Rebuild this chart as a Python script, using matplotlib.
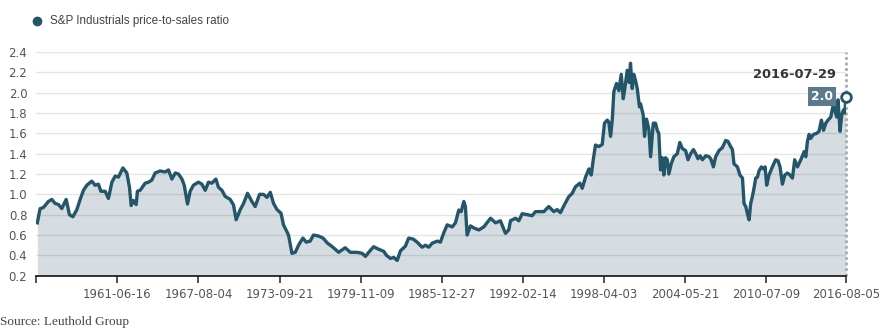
import numpy as np
import pandas as pd
import matplotlib
matplotlib.use("Agg")
import matplotlib.pyplot as plt
from matplotlib.lines import Line2D

# === Data (decimal year, ratio) ===
years = [
    1955.40, 1955.61, 1955.86, 1956.24, 1956.50, 1956.75, 1957.00, 1957.25, 1957.58, 1957.83,
    1958.09, 1958.39, 1958.64, 1958.89, 1959.15, 1959.52, 1959.77, 1960.02, 1960.21, 1960.53,
    1960.78, 1961.04, 1961.29, 1961.54, 1961.87, 1962.17, 1962.37, 1962.50, 1962.67, 1962.88,
    1962.97, 1963.18, 1963.56, 1963.81, 1964.06, 1964.31, 1964.69, 1965.07, 1965.32, 1965.58,
    1965.83, 1966.08, 1966.34, 1966.51, 1966.76, 1966.96, 1967.21, 1967.59, 1967.85, 1968.10,
    1968.35, 1968.60, 1968.91, 1969.10, 1969.36, 1969.61, 1969.99, 1970.24, 1970.44, 1970.75,
    1971.00, 1971.30, 1971.63, 1971.88, 1972.21, 1972.51, 1972.77, 1973.02, 1973.27, 1973.53,
    1973.83, 1974.02, 1974.40, 1974.66, 1974.91, 1975.16, 1975.49, 1975.74, 1976.04, 1976.29,
    1976.67, 1977.01, 1977.35, 1977.76, 1978.19, 1978.69, 1979.07, 1979.58, 1979.97, 1980.22,
    1980.47, 1980.84, 1981.22, 1981.60, 1981.81, 1982.11, 1982.36, 1982.62, 1982.87, 1983.24,
    1983.49, 1983.83, 1984.13, 1984.51, 1984.76, 1985.01, 1985.27, 1985.64, 1985.89, 1986.14,
    1986.40, 1986.78, 1987.03, 1987.28, 1987.46, 1987.66, 1987.78, 1987.91, 1988.16, 1988.41,
    1988.79, 1989.17, 1989.68, 1990.06, 1990.43, 1990.81, 1991.06, 1991.19, 1991.57, 1991.82,
    1992.08, 1992.45, 1992.83, 1993.08, 1993.46, 1993.71, 1994.09, 1994.47, 1994.72, 1994.97,
    1995.28, 1995.60, 1995.86, 1996.11, 1996.44, 1996.62, 1996.87, 1997.12, 1997.30, 1997.45,
    1997.62, 1997.87, 1998.13, 1998.30, 1998.51, 1998.63, 1998.76, 1998.89, 1999.01, 1999.21,
    1999.39, 1999.57, 1999.72, 1999.84, 2000.02, 2000.17, 2000.27, 2000.40, 2000.52, 2000.65,
    2000.78, 2000.95, 2001.03, 2001.23, 2001.33, 2001.48, 2001.66, 2001.79, 2001.99, 2002.16,
    2002.29, 2002.41, 2002.54, 2002.67, 2002.79, 2002.92, 2003.05, 2003.17, 2003.35, 2003.55,
    2003.81, 2004.00, 2004.19, 2004.44, 2004.62, 2004.82, 2005.03, 2005.20, 2005.37, 2005.53,
    2005.71, 2005.96, 2006.21, 2006.34, 2006.54, 2006.71, 2006.96, 2007.22, 2007.47, 2007.65,
    2007.80, 2007.98, 2008.10, 2008.36, 2008.55, 2008.74, 2008.86, 2008.99, 2009.11, 2009.24,
    2009.36, 2009.49, 2009.61, 2009.74, 2009.87, 2009.99, 2010.17, 2010.33, 2010.45, 2010.57,
    2010.75, 2011.00, 2011.25, 2011.43, 2011.58, 2011.76, 2011.94, 2012.14, 2012.34, 2012.52,
    2012.69, 2012.90, 2013.15, 2013.40, 2013.53, 2013.65, 2013.78, 2013.90, 2014.11, 2014.36,
    2014.53, 2014.71, 2014.87, 2015.04, 2015.21, 2015.42, 2015.62, 2015.72, 2015.87, 2015.97,
    2016.12, 2016.25, 2016.38, 2016.48, 2016.57,
]
ratio = [
    0.72, 0.86, 0.87, 0.93, 0.95, 0.91, 0.90, 0.86, 0.95, 0.80,
    0.78, 0.85, 0.95, 1.04, 1.09, 1.13, 1.09, 1.10, 1.03, 1.03,
    0.96, 1.12, 1.18, 1.17, 1.26, 1.21, 1.07, 0.89, 0.94, 0.90,
    1.03, 1.04, 1.11, 1.12, 1.14, 1.21, 1.23, 1.22, 1.24, 1.15,
    1.21, 1.20, 1.15, 1.09, 0.905, 1.03, 1.09, 1.12, 1.10, 1.04,
    1.12, 1.11, 1.15, 1.07, 1.04, 0.98, 0.95, 0.895, 0.75, 0.85,
    0.91, 1.01, 0.93, 0.88, 1.00, 1.00, 0.97, 1.02, 0.91, 0.85,
    0.815, 0.70, 0.60, 0.42, 0.43, 0.50, 0.57, 0.53, 0.54, 0.60,
    0.59, 0.57, 0.52, 0.48, 0.43, 0.475, 0.43, 0.43, 0.42, 0.39,
    0.43, 0.485, 0.46, 0.44, 0.40, 0.37, 0.38, 0.35, 0.445, 0.49,
    0.57, 0.56, 0.53, 0.48, 0.50, 0.48, 0.52, 0.54, 0.53, 0.62,
    0.70, 0.68, 0.72, 0.846, 0.83, 0.93, 0.88, 0.60, 0.69, 0.67,
    0.65, 0.68, 0.765, 0.72, 0.74, 0.617, 0.65, 0.74, 0.765, 0.74,
    0.81, 0.80, 0.79, 0.83, 0.83, 0.83, 0.88, 0.83, 0.85, 0.82,
    0.90, 0.977, 1.01, 1.075, 1.11, 1.06, 1.17, 1.25, 1.19, 1.34,
    1.485, 1.47, 1.49, 1.70, 1.73, 1.71, 1.57, 1.73, 2.01, 2.09,
    2.02, 2.18, 1.94, 2.04, 2.22, 2.10, 2.29, 2.04, 2.18, 2.12,
    2.04, 1.86, 1.89, 1.78, 1.57, 1.74, 1.64, 1.37, 1.70, 1.70,
    1.63, 1.60, 1.24, 1.36, 1.19, 1.36, 1.34, 1.20, 1.30, 1.37,
    1.40, 1.51, 1.45, 1.43, 1.34, 1.40, 1.44, 1.40, 1.35, 1.38,
    1.34, 1.38, 1.37, 1.35, 1.27, 1.37, 1.43, 1.46, 1.53, 1.52,
    1.48, 1.44, 1.30, 1.27, 1.19, 1.16, 0.91, 0.88, 0.81, 0.75,
    0.91, 0.98, 1.06, 1.16, 1.17, 1.23, 1.27, 1.25, 1.27, 1.09,
    1.19, 1.27, 1.34, 1.33, 1.27, 1.10, 1.19, 1.21, 1.19, 1.16,
    1.34, 1.27, 1.34, 1.42, 1.37, 1.52, 1.59, 1.55, 1.59, 1.60,
    1.62, 1.73, 1.63, 1.70, 1.73, 1.76, 1.89, 1.83, 1.76, 1.93,
    1.62, 1.78, 1.83, 1.80, 1.96,
]
tick_dates = ["1955-04-29", "1961-06-16", "1967-08-04", "1973-09-21", "1979-11-09",
              "1985-12-27", "1992-02-14", "1998-04-03", "2004-05-21", "2010-07-09",
              "2016-08-05"]
last_date = "2016-07-29"
series_name = "S&P Industrials price-to-sales ratio"
source = "Source: Leuthold Group"

LINE = "#24566a"
FILL = "#d5dde2"
GREY_TXT = "#555555"


def to_date(y):
    yr = int(y)
    return pd.Timestamp(yr, 1, 1) + pd.Timedelta(days=(y - yr) * 365.25)


dates = np.array([to_date(y) for y in years], dtype="datetime64[ns]")
dates[-1] = np.datetime64(last_date)
ticks = np.array(tick_dates, dtype="datetime64[ns]")

fig = plt.figure(figsize=(8.85, 3.32), dpi=100)
ax = fig.add_axes([36.3 / 885, 1 - 275.7 / 332, 810 / 885, (275.7 - 52) / 332])

ax.fill_between(dates, ratio, 0.2, color=FILL, lw=0, zorder=1)
ax.plot(dates, ratio, color=LINE, lw=2.4, solid_joinstyle="round", zorder=3)

yvals = np.round(np.arange(0.2, 2.41, 0.2), 1)
ax.set_ylim(0.2, 2.4)
ax.set_xlim(ticks[0], ticks[-1])
ax.set_yticks(yvals)
ax.set_yticklabels([f"{v:.1f}" for v in yvals])

# horizontal grid, drawn above the fill
for v in yvals[1:]:
    ax.axhline(v, color="black", alpha=0.1, lw=1, zorder=2)

ax.set_xticks(ticks)
ax.set_xticklabels([""] + tick_dates[1:])

for s in ["top", "right", "left"]:
    ax.spines[s].set_visible(False)
ax.spines["bottom"].set_color("#222222")
ax.spines["bottom"].set_linewidth(1.3)
ax.spines["bottom"].set_zorder(4)
ax.tick_params(axis="y", length=0, pad=6.5, labelsize=8.5, labelcolor=GREY_TXT)
ax.tick_params(axis="x", length=4.7, width=1.1, color="#222222", pad=3.9,
               labelsize=8.5, labelcolor=GREY_TXT)

# dotted marker line at last date
ax.axvline(ticks[-1], color="#aaaaaa", lw=2, ls=(0, (1, 1)), zorder=2, clip_on=False)

# last value marker + labels
ax.plot(dates[-1:], ratio[-1:], marker="o", ms=7, mfc="white", mec=LINE, mew=2,
        zorder=5, clip_on=False)
ax.annotate(last_date, xy=(dates[-1], ratio[-1]), xytext=(-7.2, 15.8),
            textcoords="offset points", ha="right", va="center",
            fontsize=9.4, fontweight="bold", color="#333333")
ax.annotate(f"{ratio[-1]:.1f}", xy=(dates[-1], ratio[-1]), xytext=(-9.4, 0),
            textcoords="offset points", ha="right", va="center",
            fontsize=8.8, fontweight="bold", color="white",
            bbox=dict(boxstyle="square,pad=0.25", fc="#5b7b8c", ec="none"))

# legend
fig.add_artist(Line2D([37 / 885], [1 - 21 / 332], marker="o", ms=6, color=LINE, lw=0))
fig.text(50 / 885, 1 - 21 / 332, series_name, fontsize=8.4, family="Liberation Sans",
         color="#444444", va="center", ha="left")

fig.text(0, 1 - 321.5 / 332, source, fontsize=9.5, family="Liberation Serif",
         color="#444444", va="center", ha="left")

fig.savefig("out.png", dpi=100)
